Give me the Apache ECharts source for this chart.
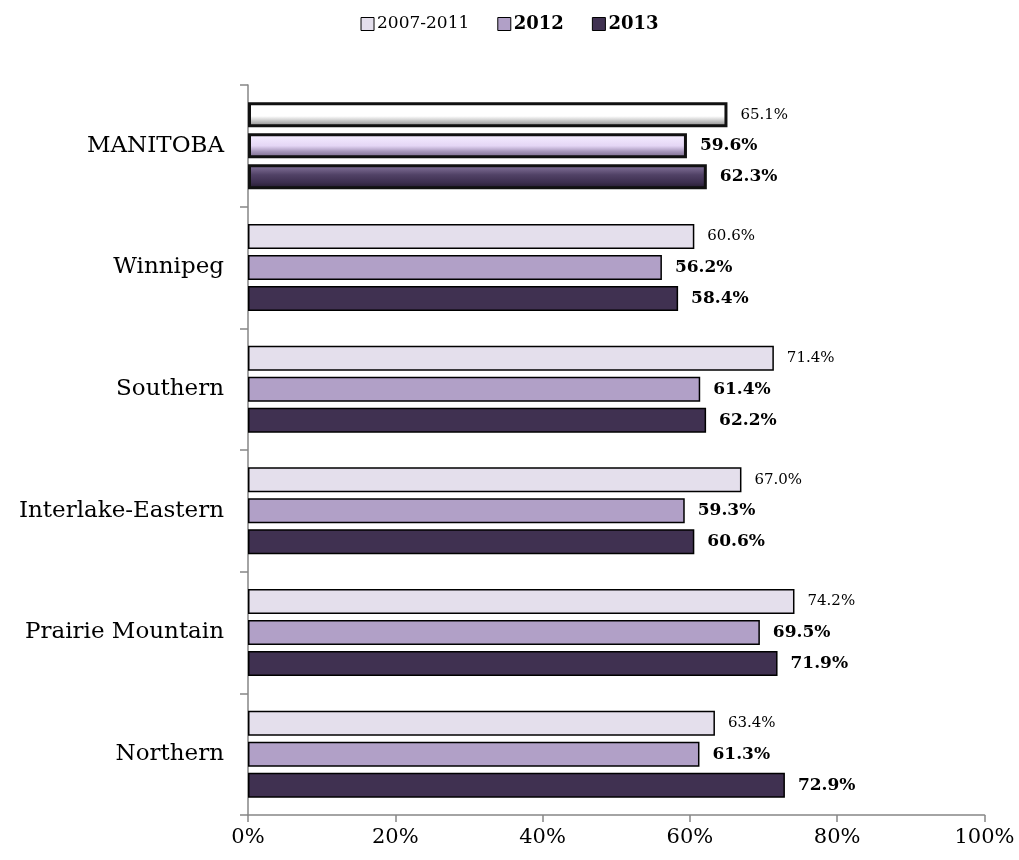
<!DOCTYPE html>
<html>
<head>
<meta charset="utf-8">
<script src="https://cdn.jsdelivr.net/npm/echarts@6/dist/echarts.min.js"></script>
<style>
  html, body { margin: 0; padding: 0; background: #fff; }
  #chart { width: 1019px; height: 860px; }
</style>
</head>
<body>
<div id="chart"></div>
<script>
// Regions and the share (%) for each period
const regions = ['MANITOBA', 'Winnipeg', 'Southern', 'Interlake-Eastern', 'Prairie Mountain', 'Northern'];
const seriesNames = ['2007-2011', '2012', '2013'];
const values2007_2011 = [65.1, 60.6, 71.4, 67.0, 74.2, 63.4];
const values2012 = [59.6, 56.2, 61.4, 59.3, 69.5, 61.3];
const values2013 = [62.3, 58.4, 62.2, 60.6, 71.9, 72.9];
const xTicks = [0, 20, 40, 60, 80, 100];

const FONT = '"DejaVu Serif", serif';
const colors = ['#E4DFEC', '#B1A0C7', '#403151'];

// Bevelled look for the province-wide (first) bar of each series
const bevels = [
  [[0, '#9a9a9a'], [0.1, '#ffffff'], [0.55, '#ffffff'], [0.75, '#c4c4c4'], [1, '#7a7a7a']],
  [[0, '#8f80a3'], [0.1, '#f4ecff'], [0.5, '#e4d6f5'], [0.72, '#a898bc'], [1, '#6d5e80']],
  [[0, '#2a2036'], [0.12, '#7b6b92'], [0.42, '#514266'], [0.72, '#3d2f50'], [1, '#1e1628']]
];

function buildData(vals, si) {
  return vals.map((v, i) => {
    if (i !== 0) return v;
    return {
      value: v,
      itemStyle: {
        color: new echarts.graphic.LinearGradient(0, 0, 0, 1,
          bevels[si].map(s => ({ offset: s[0], color: s[1] }))),
        borderColor: '#111',
        borderWidth: 3
      }
    };
  });
}

function makeSeries(name, vals, si) {
  const bold = si > 0;
  return {
    name: name,
    type: 'bar',
    barCategoryGap: '28.5%',
    barGap: '24%',
    data: buildData(vals, si),
    itemStyle: { color: colors[si], borderColor: '#000', borderWidth: 1.5 },
    label: {
      show: true,
      position: 'right',
      distance: 13,
      fontFamily: FONT,
      fontSize: bold ? 17 : 15,
      fontWeight: bold ? 'bold' : 'normal',
      color: '#000',
      formatter: p => Number(p.value).toFixed(1) + '%'
    }
  };
}

const chart = echarts.init(document.getElementById('chart'), null, { renderer: 'canvas' });
chart.setOption({
  animation: false,
  backgroundColor: '#fff',
  legend: {
    top: 10,
    left: 'center',
    itemWidth: 13,
    itemHeight: 13,
    itemGap: 28,
    icon: 'rect',
    textStyle: { fontFamily: FONT, fontSize: 17, color: '#000', padding: [0, 0, 0, -2] },
    data: [
      { name: '2007-2011', itemStyle: { color: colors[0], borderColor: '#000', borderWidth: 1 } },
      { name: '2012', itemStyle: { color: colors[1], borderColor: '#000', borderWidth: 1 }, textStyle: { fontWeight: 'bold', fontSize: 18 } },
      { name: '2013', itemStyle: { color: colors[2], borderColor: '#000', borderWidth: 1 }, textStyle: { fontWeight: 'bold', fontSize: 18 } }
    ]
  },
  grid: { left: 248, right: 34.5, top: 85, bottom: 45, containLabel: false },
  xAxis: {
    type: 'value',
    min: xTicks[0],
    max: xTicks[xTicks.length - 1],
    interval: 20,
    axisLine: { show: true, lineStyle: { color: '#868686', width: 1.5 } },
    axisTick: { show: true, length: 7, lineStyle: { color: '#868686', width: 1.5 } },
    splitLine: { show: false },
    axisLabel: {
      fontFamily: FONT, fontSize: 21, color: '#000', margin: 12,
      formatter: '{value}%'
    }
  },
  yAxis: {
    type: 'category',
    inverse: true,
    data: regions,
    axisLine: { show: true, lineStyle: { color: '#868686', width: 1.5 } },
    axisTick: { show: true, length: 8, alignWithLabel: false, lineStyle: { color: '#868686', width: 1.5 } },
    axisLabel: { fontFamily: FONT, fontSize: 23, color: '#000', margin: 24 }
  },
  series: [
    makeSeries(seriesNames[0], values2007_2011, 0),
    makeSeries(seriesNames[1], values2012, 1),
    makeSeries(seriesNames[2], values2013, 2)
  ]
});
</script>
</body>
</html>
